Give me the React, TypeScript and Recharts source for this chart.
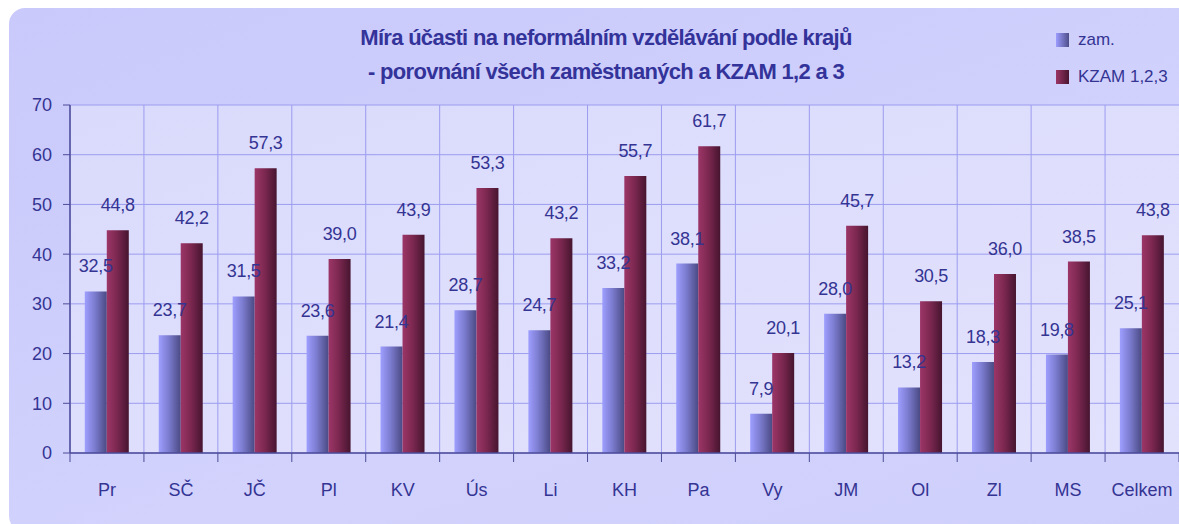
import { BarChart, Bar, XAxis, YAxis, CartesianGrid, LabelList } from 'recharts'

const regions = ['Pr', 'SČ', 'JČ', 'Pl', 'KV', 'Ús', 'Li', 'KH', 'Pa', 'Vy', 'JM', 'Ol', 'Zl', 'MS', 'Celkem']
const zam = [32.5, 23.7, 31.5, 23.6, 21.4, 28.7, 24.7, 33.2, 38.1, 7.9, 28.0, 13.2, 18.3, 19.8, 25.1]
const kzam = [44.8, 42.2, 57.3, 39.0, 43.9, 53.3, 43.2, 55.7, 61.7, 20.1, 45.7, 30.5, 36.0, 38.5, 43.8]
const yTicks = [0, 10, 20, 30, 40, 50, 60, 70]

const data = regions.map((r, i) => ({ name: r, zam: zam[i], kzam: kzam[i] }))

const W = 1179
const H = 524
const LEFT = 70
const TOP = 105
const BOTTOM = 71
const band = (W - LEFT) / regions.length

const FONT = '"Liberation Sans", Arial, sans-serif'
const TEXT = '#343493'
const AXIS = '#4b4b98'

const fmt = (v: number) => v.toFixed(1).replace('.', ',')

const ValueLabel = (props: any) => {
  const { x, y, width, value } = props
  return (
    <text
      x={x + width / 2}
      y={y - 19}
      textAnchor="middle"
      fill={TEXT}
      fontSize={18}
      fontFamily={FONT}
      letterSpacing={-0.3}
    >
      {fmt(value)}
    </text>
  )
}

const CatTick = (props: any) => {
  const { x, y, payload, index } = props
  const half = band / 2
  return (
    <g>
      {index === 0 && <line x1={x - half} y1={y} x2={x - half} y2={y + 9} stroke={AXIS} />}
      <line x1={x + half} y1={y} x2={x + half} y2={y + 9} stroke={AXIS} />
      <text x={x} y={y + 43} textAnchor="middle" fill={TEXT} fontSize={18} fontFamily={FONT}>
        {payload.value}
      </text>
    </g>
  )
}

export default function App() {
  return (
    <div style={{ position: 'absolute', left: 0, top: 0, width: W, height: H, overflow: 'hidden', background: '#fff' }}>
      <div
        style={{
          position: 'absolute',
          left: 9,
          top: 8,
          width: W + 20,
          height: H,
          borderRadius: 16,
          background: 'linear-gradient(160deg, #c9c9fb 0%, #d2d2fd 60%, #cfcffb 100%)',
        }}
      />
      <div
        style={{
          position: 'absolute',
          left: 0,
          width: 1212,
          top: 21,
          textAlign: 'center',
          color: '#33339a',
          fontFamily: FONT,
          fontWeight: 700,
          fontSize: 22,
          lineHeight: '34px',
          letterSpacing: -0.7,
        }}
      >
        <div>Míra účasti na neformálním vzdělávání podle krajů</div>
        <div>- porovnání všech zaměstnaných a KZAM 1,2 a 3</div>
      </div>
      <div style={{ position: 'absolute', left: 1056, top: 30, fontFamily: FONT, fontSize: 17, color: TEXT }}>
        <div style={{ display: 'flex', alignItems: 'center', height: 20 }}>
          <span style={{ width: 13, height: 14, marginRight: 9, background: 'linear-gradient(90deg, #9c9cff, #4e4e8a)' }} />
          zam.
        </div>
        <div style={{ display: 'flex', alignItems: 'center', height: 20, marginTop: 17 }}>
          <span style={{ width: 13, height: 14, marginRight: 9, background: 'linear-gradient(90deg, #9b3566, #4a1530)' }} />
          KZAM 1,2,3
        </div>
      </div>
      <div style={{ position: 'absolute', left: 0, top: 0 }}>
        <BarChart
          width={W}
          height={H}
          data={data}
          margin={{ top: TOP, right: 0, bottom: 0, left: 0 }}
          barCategoryGap="20%"
          barGap={0}
        >
          <defs>
            <linearGradient id="gZam" x1="0" y1="0" x2="1" y2="0">
              <stop offset="0%" stopColor="#9e9eff" />
              <stop offset="45%" stopColor="#7c7cd0" />
              <stop offset="100%" stopColor="#4a4a84" />
            </linearGradient>
            <linearGradient id="gKzam" x1="0" y1="0" x2="1" y2="0">
              <stop offset="0%" stopColor="#9c3668" />
              <stop offset="45%" stopColor="#7d2850" />
              <stop offset="100%" stopColor="#461530" />
            </linearGradient>
            <linearGradient id="gPlot" x1="0" y1="0" x2="1" y2="1">
              <stop offset="0%" stopColor="#dadafc" />
              <stop offset="100%" stopColor="#e2e2fd" />
            </linearGradient>
          </defs>
          <CartesianGrid
            fill="url(#gPlot)"
            horizontal={{ stroke: '#9c9cf0', strokeWidth: 1 } as any}
            vertical={{ stroke: '#aeaef2', strokeWidth: 1 } as any}
            stroke="#9c9cf0"
            strokeDasharray=""
            verticalCoordinatesGenerator={({ offset }: any) =>
              regions.map((_, i) => offset.left + (i * offset.width) / regions.length)
            }
          />
          <XAxis
            dataKey="name"
            height={BOTTOM}
            axisLine={{ stroke: AXIS, strokeWidth: 1.5 }}
            tickLine={false}
            tickSize={0}
            tickMargin={0}
            tick={<CatTick />}
            interval={0}
          />
          <YAxis
            width={LEFT}
            domain={[0, 70]}
            ticks={yTicks}
            axisLine={{ stroke: AXIS, strokeWidth: 1.5 }}
            tickLine={{ stroke: AXIS }}
            tickSize={7}
            tickMargin={11}
            tick={{ fill: TEXT, fontSize: 18, fontFamily: FONT }}
          />
          <Bar dataKey="zam" fill="url(#gZam)" isAnimationActive={false}>
            <LabelList dataKey="zam" content={<ValueLabel />} />
          </Bar>
          <Bar dataKey="kzam" fill="url(#gKzam)" isAnimationActive={false}>
            <LabelList dataKey="kzam" content={<ValueLabel />} />
          </Bar>
        </BarChart>
      </div>
    </div>
  )
}
